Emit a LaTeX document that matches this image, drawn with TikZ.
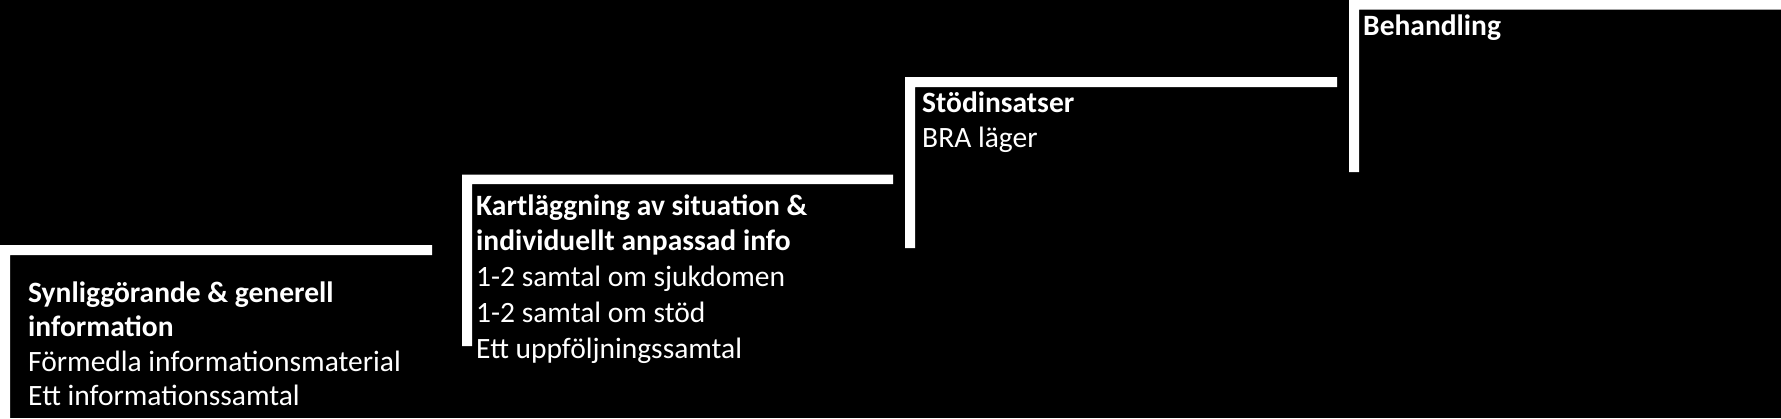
\documentclass[tikz,border=0pt]{standalone}
\usepackage{fontspec}
\setmainfont{Carlito}
\newcommand{\stepstack}[2]{\vtop{\baselineskip=#1\lineskiplimit=-100pt\lineskip=0pt #2}}
\begin{document}
\begin{tikzpicture}[x=1pt,y=-1pt,
  bar/.style={fill=white,draw=none},
  txt/.style={text=white,inner sep=0pt,anchor=base west,font=\fontsize{29.5}{35}\selectfont}]
\fill[black] (0,0) rectangle (1781,418);
\useasboundingbox (0,0) rectangle (1781,418);
% steps
\fill[bar] (0,245) -- (432,245) -- (432,255) -- (10,255) -- (10,418) -- (0,418) -- cycle;
\fill[bar] (462,174.5) -- (893,174.5) -- (893,184) -- (472,184) -- (472,346) -- (462,346) -- cycle;
\fill[bar] (905,77) -- (1337,77) -- (1337,87) -- (915,87) -- (915,248) -- (905,248) -- cycle;
\fill[bar] (1349,-1) -- (1781,-1) -- (1781,9.5) -- (1359,9.5) -- (1359,172) -- (1349,172) -- cycle;
% texts
\node[txt] (s1) at (28,302) {\stepstack{34.6pt}{%
  \hbox{\bfseries Synliggörande \& generell}
  \hbox{\bfseries information}
  \hbox{Förmedla informationsmaterial}
  \hbox{Ett informationssamtal}}};
\node[txt] (s2) at (476,215) {\stepstack{35.8pt}{%
  \hbox{\bfseries Kartläggning av situation \&}
  \hbox{\bfseries individuellt anpassad info}
  \hbox{1-2 samtal om sjukdomen}
  \hbox{1-2 samtal om stöd}
  \hbox{Ett uppföljningssamtal}}};
\node[txt] (s3) at (922,112) {\stepstack{35pt}{%
  \hbox{\bfseries Stödinsatser}
  \hbox{BRA läger}}};
\node[txt] (s4) at (1363,35) {\bfseries Behandling};
\end{tikzpicture}
\end{document}
